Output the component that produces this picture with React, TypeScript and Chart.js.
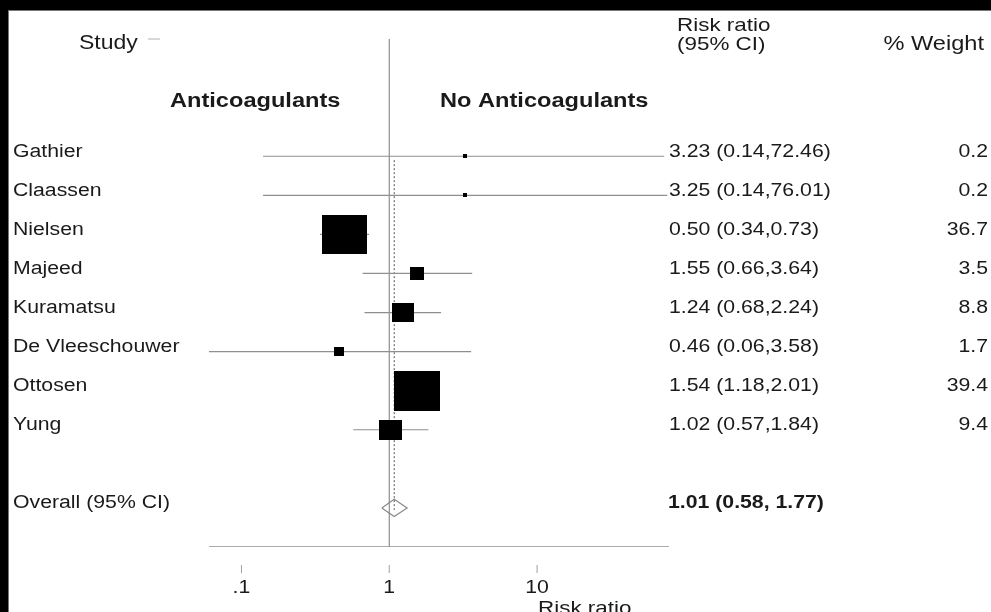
import React, { useEffect, useRef } from "react";
import { Chart, registerables } from "chart.js";

Chart.register(...registerables);

// ---- data ----
const studies = ["Gathier", "Claassen", "Nielsen", "Majeed", "Kuramatsu", "De Vleeschouwer", "Ottosen", "Yung"];
const riskRatio = [3.23, 3.25, 0.5, 1.55, 1.24, 0.46, 1.54, 1.02];
const ciLower = [0.14, 0.14, 0.34, 0.66, 0.68, 0.06, 1.18, 0.57];
const ciUpper = [72.46, 76.01, 0.73, 3.64, 2.24, 3.58, 2.01, 1.84];
const weights = [0.2, 0.2, 36.7, 3.5, 8.8, 1.7, 39.4, 9.4];

const overallLabel = "Overall (95% CI)";
const overallRR = 1.01;
const overallLower = 0.58;
const overallUpper = 1.77;
// diamond as it is drawn in the figure
const diamondEst = 1.08;
const diamondLower = 0.89;
const diamondUpper = 1.32;

const xTicks = [0.1, 1, 10];
const xTickLabels = [".1", "1", "10"];
const xMin = 0.0603;
const xMax = 78.06;
const overallRow = 9;
const axisRow = 10;
const topRow = -3;

const SX = 1.18;
const FONT = '"Liberation Sans", Arial, Helvetica, sans-serif';
const GREY = "#8f8f8f";
const TEXT = "#1a1a1a";

function txt(ctx: CanvasRenderingContext2D, s: string, x: number, y: number, size: number, bold: boolean, align: CanvasTextAlign) {
  ctx.save();
  ctx.translate(x, y);
  ctx.scale(SX, 1);
  ctx.font = `${bold ? "bold " : ""}${size}px ${FONT}`;
  ctx.textAlign = align;
  ctx.textBaseline = "alphabetic";
  ctx.fillStyle = TEXT;
  ctx.fillText(s, 0, 0);
  ctx.restore();
}

function line(ctx: CanvasRenderingContext2D, x1: number, y1: number, x2: number, y2: number, color: string, w: number) {
  ctx.save();
  ctx.strokeStyle = color;
  ctx.lineWidth = w;
  ctx.beginPath();
  ctx.moveTo(x1, y1);
  ctx.lineTo(x2, y2);
  ctx.stroke();
  ctx.restore();
}

const textPlugin = {
  id: "forestText",
  afterDraw(chart: any) {
    const ctx = chart.ctx as CanvasRenderingContext2D;
    const xs = chart.scales.x;
    const ys = chart.scales.y;
    // headers
    txt(ctx, "Study", 79, 49, 19.5, false, "left");
    line(ctx, 148, ys.getPixelForValue(topRow), 160, ys.getPixelForValue(topRow), "#b0b0b0", 1);
    txt(ctx, "Anticoagulants", 170, 107, 20, true, "left");
    txt(ctx, "No Anticoagulants", 440, 107, 20, true, "left");
    txt(ctx, "Risk ratio", 677, 31, 19, false, "left");
    txt(ctx, "(95% CI)", 677, 50, 19, false, "left");
    txt(ctx, "% Weight", 984, 50, 20, false, "right");
    // rows
    studies.forEach((s, i) => {
      const y = ys.getPixelForValue(i) + 0.5;
      txt(ctx, s, 13, y, 18, false, "left");
      txt(ctx, `${riskRatio[i].toFixed(2)} (${ciLower[i].toFixed(2)},${ciUpper[i].toFixed(2)})`, 669, y, 18, false, "left");
      txt(ctx, weights[i].toFixed(1), 988, y, 18, false, "right");
    });
    const yo = ys.getPixelForValue(overallRow) + 0.5;
    txt(ctx, overallLabel, 13, yo, 18, false, "left");
    txt(ctx, `${overallRR.toFixed(2)} (${overallLower.toFixed(2)}, ${overallUpper.toFixed(2)})`, 668, yo, 18, true, "left");
    // x axis ticks
    xTicks.forEach((t, i) => {
      const x = xs.getPixelForValue(t);
      line(ctx, x, 565, x, 573, "#a0a0a0", 1);
      txt(ctx, xTickLabels[i], x, 593, 18, false, "center");
    });
    txt(ctx, "Risk ratio", 538, 614, 19, false, "left");
  },
};

export default function App() {
  const ref = useRef<HTMLCanvasElement>(null);
  useEffect(() => {
    if (!ref.current) return;
    const boxes = weights.map((w) => {
      const c = document.createElement("canvas");
      const s = 7.2 * Math.sqrt(w);
      c.width = Math.max(3, Math.round(s + 1));
      c.height = Math.max(3, Math.round(0.86 * s + 1));
      const g = c.getContext("2d")!;
      g.fillStyle = "#000";
      g.fillRect(0, 0, c.width, c.height);
      return c;
    });
    const ciSets = studies.map((s, i) => ({
      label: s,
      data: [
        { x: ciLower[i], y: i },
        { x: ciUpper[i], y: i },
      ],
      showLine: true,
      borderColor: GREY,
      borderWidth: 1.2,
      pointRadius: 0,
      order: 3,
    }));
    const chart = new Chart(ref.current, {
      type: "scatter",
      data: {
        datasets: [
          {
            label: "Studies",
            data: riskRatio.map((r, i) => ({ x: r, y: i })),
            pointStyle: (c: any) => boxes[c.dataIndex] || "rect",
            pointRadius: 3,
            backgroundColor: "#000",
            borderWidth: 0,
            order: 0,
          } as any,
          {
            label: "Overall",
            data: [
              { x: diamondLower, y: overallRow },
              { x: diamondEst, y: overallRow - 0.22 },
              { x: diamondUpper, y: overallRow },
              { x: diamondEst, y: overallRow + 0.22 },
              { x: diamondLower, y: overallRow },
            ],
            showLine: true,
            borderColor: "#888",
            borderWidth: 1.2,
            backgroundColor: "rgba(255,255,255,1)",
            fill: false,
            pointRadius: 0,
            order: 1,
          } as any,
          ...ciSets,
          {
            label: "Overall estimate",
            data: [
              { x: diamondEst, y: 0.1 },
              { x: diamondEst, y: overallRow + 0.05 },
            ],
            showLine: true,
            borderColor: "#555",
            borderWidth: 1,
            borderDash: [2, 2],
            pointRadius: 0,
            order: 4,
          },
          {
            label: "No effect",
            data: [
              { x: 1, y: topRow },
              { x: 1, y: axisRow },
            ],
            showLine: true,
            borderColor: GREY,
            borderWidth: 1.2,
            pointRadius: 0,
            order: 5,
          },
          {
            label: "Axis",
            data: [
              { x: xMin, y: axisRow },
              { x: xMax, y: axisRow },
            ],
            showLine: true,
            borderColor: GREY,
            borderWidth: 1.5,
            pointRadius: 0,
            order: 6,
          },
        ],
      },
      options: {
        animation: false,
        responsive: false,
        events: [],
        layout: { padding: { left: 209, right: 322, top: 39, bottom: 65 } },
        plugins: { legend: { display: false }, tooltip: { enabled: false } },
        scales: {
          x: { type: "logarithmic", min: xMin, max: xMax, display: false },
          y: { type: "linear", min: topRow, max: axisRow, reverse: true, display: false },
        },
      },
      plugins: [textPlugin],
    } as any);
    return () => chart.destroy();
  }, []);

  return (
    <div style={{ position: "absolute", left: 0, top: 0, width: 991, height: 612, background: "#000", overflow: "hidden" }}>
      <div style={{ position: "absolute", left: 8, top: 10, right: 0, bottom: 0, background: "#fff", borderTop: "1px solid #777", borderLeft: "1px solid #777" }} />
      <canvas ref={ref} width={991} height={612} style={{ position: "absolute", left: 0, top: 0, width: 991, height: 612 }} />
    </div>
  );
}
